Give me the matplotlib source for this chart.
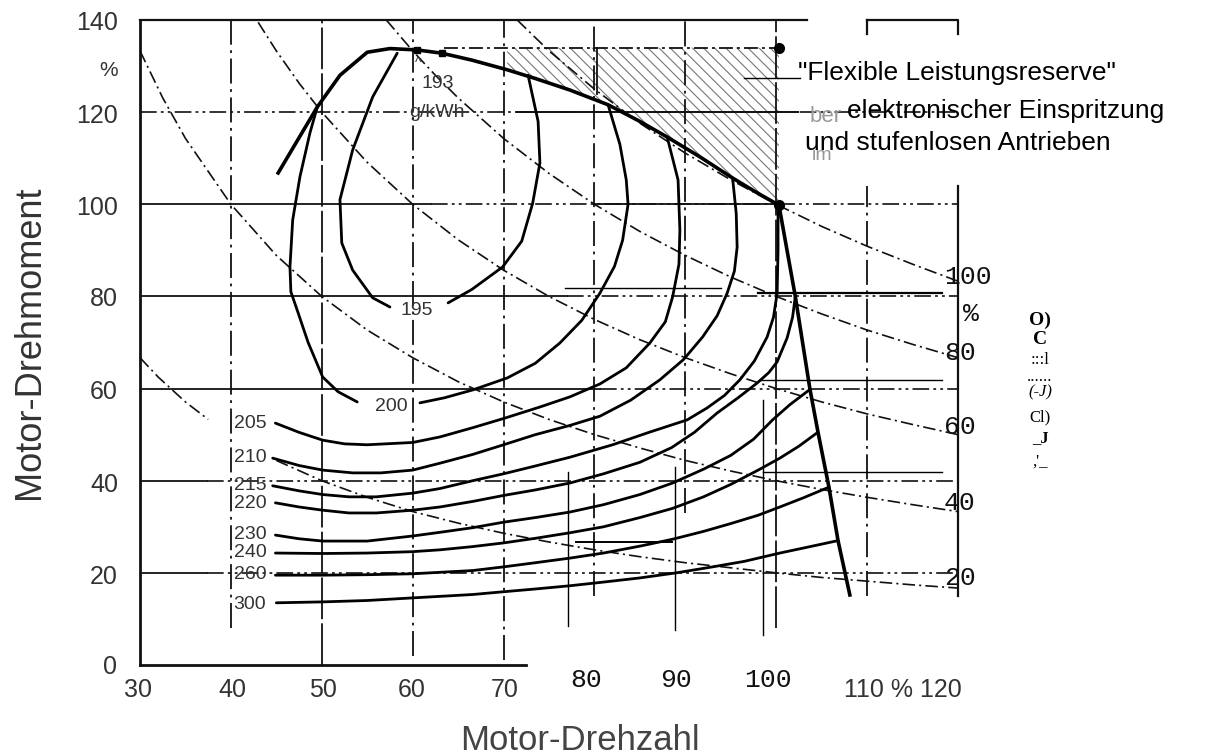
import matplotlib
matplotlib.use("Agg")
import matplotlib.pyplot as plt

plt.rcParams['font.family'] = ['Liberation Sans', 'DejaVu Sans']
plt.rcParams['lines.scale_dashes'] = False
plt.rcParams['hatch.linewidth'] = 0.8

W, H = 1226, 756

# full load curve (speed %, torque %) incl. governor branch
full_n = [45.2, 49.5, 52.0, 55.0, 57.5, 60.5, 63.2, 66.5, 70.4, 73.5, 77.3, 81.5, 84.8, 88.0,
          91.6, 95.2, 97.8, 100.3, 102.1, 103.7, 104.6, 105.8, 106.8, 108.1]
full_m = [106.8, 121.1, 128.0, 133.0, 133.8, 133.5, 132.8, 131.3, 129.2, 127.3, 124.8, 121.6, 118.2, 114.6,
          110.3, 105.7, 102.6, 99.8, 80.0, 60.0, 50.5, 38.6, 27.0, 15.2]

# specific fuel consumption lines (g/kWh)
c195_l_n = [58.3, 55.6, 53.4, 52.0, 52.2, 53.4, 55.6, 57.5]
c195_l_m = [132.8, 123.3, 111.8, 101.0, 91.6, 85.7, 79.7, 77.7]
c195_r_n = [63.9, 66.5, 69.9, 72.0, 73.2, 74.0, 73.8, 72.7]
c195_r_m = [78.6, 81.5, 86.4, 92.0, 100.2, 109.0, 118.0, 128.0]

c200_l_n = [49.5, 48.7, 47.6, 46.8, 46.5, 46.6, 47.3, 48.5, 50.1, 51.8, 53.9]
c200_l_m = [121.1, 115.5, 106.0, 96.6, 86.4, 81.0, 77.0, 70.0, 62.5, 59.3, 57.1]
c200_r_n = [60.8, 63.5, 66.6, 70.4, 73.5, 76.2, 78.6, 80.6, 82.2, 83.1, 83.7, 83.5, 82.8, 81.5]
c200_r_m = [56.9, 58.0, 59.7, 62.3, 65.5, 69.9, 74.8, 80.7, 86.5, 92.2, 100.0, 105.3, 113.0, 121.6]

c205_n = [44.9, 47.5, 50.1, 52.5, 55.0, 60.0, 63.0, 66.6, 70.0, 74.0, 77.3, 80.6, 83.5, 86.1,
          87.8, 88.6, 89.3, 89.4, 89.2, 88.0]
c205_m = [52.5, 50.5, 48.8, 48.0, 47.8, 48.3, 49.5, 51.5, 53.5, 56.0, 58.2, 61.0, 64.5, 69.9,
          74.5, 79.9, 87.0, 94.4, 105.3, 114.6]

c210_n = [44.6, 47.5, 50.1, 53.4, 56.5, 60.0, 63.0, 66.6, 70.0, 73.5, 77.3, 80.6, 84.0, 87.2,
          89.8, 91.9, 93.5, 94.6, 95.4, 95.7, 95.6, 95.2]
c210_m = [44.9, 43.3, 42.3, 41.7, 41.7, 42.3, 43.8, 45.7, 47.8, 50.0, 52.0, 54.0, 57.5, 61.9,
          66.3, 71.2, 75.8, 80.7, 85.5, 90.7, 98.0, 105.7]

c215_n = [44.6, 47.5, 50.1, 53.0, 56.0, 60.0, 63.0, 66.6, 70.0, 73.5, 77.3, 82.0, 86.0, 90.2,
          92.4, 94.3, 96.0, 97.6, 99.0, 99.7, 100.1, 100.2, 100.2]
c215_m = [38.9, 37.8, 37.0, 36.5, 36.5, 37.3, 38.3, 40.0, 41.5, 43.2, 45.1, 47.8, 50.5, 53.2,
          55.8, 58.5, 61.9, 66.0, 71.2, 75.5, 80.7, 90.0, 99.8]

c220_n = [44.9, 47.5, 50.1, 53.0, 56.0, 60.0, 63.0, 66.6, 70.0, 73.5, 77.3, 81.0, 85.0, 88.5,
          91.0, 93.5, 95.8, 97.9, 99.2, 100.1, 101.2, 101.8, 102.1]
c220_m = [35.2, 34.3, 33.6, 33.0, 33.0, 33.6, 34.3, 35.5, 36.8, 38.0, 39.5, 41.5, 44.0, 47.2,
          50.5, 54.7, 58.0, 61.2, 63.5, 65.8, 71.0, 75.5, 80.0]

c230_n = [44.9, 47.5, 50.1, 55.0, 60.0, 63.0, 66.6, 70.0, 73.5, 77.3, 81.0, 85.0, 88.6, 92.0,
          95.0, 97.5, 99.6, 101.5, 103.7]
c230_m = [28.2, 27.4, 26.9, 26.9, 28.0, 28.8, 29.8, 31.0, 32.0, 33.2, 34.8, 37.0, 39.5, 42.5,
          45.5, 49.0, 53.2, 56.5, 59.8]

c240_n = [44.9, 50.1, 55.0, 60.0, 63.0, 66.6, 70.0, 73.5, 77.3, 81.0, 85.0, 88.6, 92.0, 95.0,
          98.2, 100.4, 102.5, 104.5]
c240_m = [24.3, 24.2, 24.3, 24.6, 25.0, 25.7, 26.5, 27.5, 28.7, 30.0, 32.0, 34.0, 36.5, 39.2,
          42.5, 44.9, 47.5, 50.4]

c260_n = [44.9, 50.1, 55.0, 60.0, 66.6, 70.0, 73.5, 77.3, 81.0, 85.0, 88.6, 92.0, 95.0, 98.0,
          100.4, 103.0, 105.8]
c260_m = [19.5, 19.5, 19.6, 19.8, 20.5, 21.3, 22.2, 23.2, 24.3, 25.8, 27.3, 29.0, 30.7, 32.5,
          34.3, 36.3, 38.6]

c300_n = [45.0, 50.1, 55.0, 59.4, 63.0, 66.6, 70.0, 73.5, 77.3, 81.0, 85.0, 89.0, 93.0, 96.5,
          100.4, 103.5, 106.8]
c300_m = [13.5, 13.7, 14.0, 14.5, 14.9, 15.3, 15.9, 16.5, 17.2, 18.0, 18.9, 20.0, 21.3, 22.5,
          24.3, 25.6, 27.0]

sfc_lines = [(c195_l_n, c195_l_m), (c195_r_n, c195_r_m), (c200_l_n, c200_l_m), (c200_r_n, c200_r_m),
             (c205_n, c205_m), (c210_n, c210_m), (c215_n, c215_m), (c220_n, c220_m),
             (c230_n, c230_m), (c240_n, c240_m), (c260_n, c260_m), (c300_n, c300_m)]

# labels of the fuel lines on the left side
sfc_labels = ['205', '210', '215', '220', '230', '240', '260', '300']
sfc_label_m = [52.5, 45.1, 39.0, 35.0, 28.4, 24.5, 19.7, 13.2]

# constant power lines (% of rated power)
p100_n = [71.5, 75, 80, 85, 90, 95, 100, 105, 110, 115, 120]
p100_m = [140.0, 133.3, 125.0, 117.6, 111.1, 105.3, 100.0, 95.2, 90.9, 87.0, 83.3]
p80_n = [57.1, 60, 62.5, 65, 70, 75, 80, 85, 90, 95, 100, 105, 110, 115, 120]
p80_m = [140.0, 133.3, 128.0, 123.1, 114.3, 106.7, 100.0, 94.1, 88.9, 84.2, 80.0, 76.2, 72.7, 69.6, 66.7]
p60_n = [43, 45, 47.5, 50, 55, 60, 65, 70, 75, 80, 85, 90, 95, 100, 105, 110, 115, 120]
p60_m = [139.5, 133.3, 126.3, 120.0, 109.1, 100.0, 92.3, 85.7, 80.0, 75.0, 70.6, 66.7, 63.2, 60.0,
         57.1, 54.5, 52.2, 50.0]
p40_n = [30, 32.5, 35, 40, 45, 50, 55, 60, 65, 70, 75, 80, 85, 90, 95, 100, 105, 110, 115, 120]
p40_m = [133.3, 123.1, 114.3, 100.0, 88.9, 80.0, 72.7, 66.7, 61.5, 57.1, 53.3, 50.0, 47.1, 44.4,
         42.1, 40.0, 38.1, 36.4, 34.8, 33.3]
p20a_n = [30, 32, 35, 37.5]
p20a_m = [66.7, 62.5, 57.1, 53.3]
p20b_n = [45, 50, 55, 60, 65, 70, 75, 80, 85, 90, 95, 100, 105, 110, 115, 120]
p20b_m = [44.4, 40.0, 36.4, 33.3, 30.8, 28.6, 26.7, 25.0, 23.5, 22.2, 21.1, 20.0, 19.0, 18.2, 17.4, 16.7]
power_lines = [(p100_n, p100_m), (p80_n, p80_m), (p60_n, p60_m), (p40_n, p40_m),
               (p20a_n, p20a_m), (p20b_n, p20b_m)]
power_labels = ['100', '%', '80', '60', '40', '20']
power_label_y = [277, 314, 353, 427, 503, 578]

# grid
h_grid = [20, 40, 60, 80, 100, 120]
h_solid_end = [37.4, 37.4, 80.6, 77.0, 62.0, 30.0]
v_grid = [40, 50, 60, 70, 80, 90, 100, 110]
v_top = [140, 140, 140, 140, 140, 140, 140, 104]
v_bottom = [8, 0, 2, 1, 15, 33, 8, 15]

x_ticks_a = ['30', '40', '50', '60', '70']
x_ticks_b = ['80', '90', '100']
y_ticks = ['140', '120', '100', '80', '60', '40', '20', '0']

# reserve corner / rated point
reserve_n = [100.3, 100.3]
reserve_m = [134.0, 99.8]
best_n = [60.5, 63.2]
best_m = [133.5, 132.8]

fig = plt.figure(figsize=(W / 100, H / 100), dpi=100)
ax = fig.add_axes([140 / W, 1 - 665 / H, 818 / W, 645 / H])
ax.set_xlim(30, 120)
ax.set_ylim(0, 140)
ax.axis('off')

def fxy(x, y):
    return x / W, 1 - y / H

ink = '#111111'
dd = (0, (10, 3, 2, 3))
ddd = (0, (12, 3, 2, 3, 2, 3))

# frame
ax.plot([30, 30], [0, 140], color=ink, lw=2.0, clip_on=False)
ax.plot([30, 72.5], [0, 0], color=ink, lw=2.0, clip_on=False)
ax.plot([30, 103.4], [140, 140], color=ink, lw=1.6, clip_on=False)
ax.plot([120, 120], [15, 104], color=ink, lw=1.6, clip_on=False)
ax.plot([110, 120, 120], [140, 140, 137], color=ink, lw=1.6, clip_on=False)
ax.plot([110, 110], [140, 137], color=ink, lw=1.6, clip_on=False)

# horizontal grid: solid start then dash-dot
for y, xs in zip(h_grid, h_solid_end):
    ax.plot([30, xs], [y, y], color=ink, lw=1.3)
    ax.plot([xs, 120], [y, y], color=ink, lw=1.2, linestyle=ddd)
ax.plot([71.5, 102.4], [120, 120], color=ink, lw=1.4)
ax.plot([80, 100], [100, 100], color=ink, lw=1.3)

# vertical grid
for x, t, b in zip(v_grid, v_top, v_bottom):
    ls = (0, (18, 4, 2, 4)) if x not in (50, 100) else (0, (30, 3))
    ax.plot([x, x], [b, t], color=ink, lw=1.3, linestyle=ls)

# hatched flexible power reserve
hatch_n = [n for n in full_n[8:18]] + [100.3, 70.4]
hatch_m = [m for m in full_m[8:18]] + [134.0, 134.0]
ax.fill(hatch_n, hatch_m, facecolor='none', edgecolor='#777777', hatch='\\\\\\', linewidth=0)
ax.plot([63.5, 100.3], [134, 134], color=ink, lw=1.3, linestyle=dd)
ax.plot([80.3, 80.3], [124, 134], color=ink, lw=1.3)

# power hyperbolas
for n, m in power_lines:
    ax.plot(n, m, color=ink, lw=1.2, linestyle=(0, (9, 3, 1.5, 3)), clip_on=False)

# fuel consumption lines
for n, m in sfc_lines:
    ax.plot(n, m, color='black', lw=2.0, solid_capstyle='round')
ax.plot(full_n, full_m, color='black', lw=2.6, solid_joinstyle='round')

ax.plot(reserve_n, reserve_m, 'o', color='black', ms=7)
ax.plot(best_n, best_m, 's', color='black', ms=5)

# thin overlay lines of the re-typed labels
ax.plot([76.8, 93.9], [81.8, 81.8], color='black', lw=1.0)
ax.plot([98.0, 118.2], [80.7, 80.7], color='black', lw=1.6)
ax.plot([98.2, 118.2], [61.9, 61.9], color='black', lw=1.0)
ax.plot([98.5, 118.2], [41.9, 41.9], color='black', lw=1.0)
ax.plot([78.0, 88.5], [26.7, 26.7], color='black', lw=1.4)
ax.plot([77.1, 77.1], [8.5, 41.9], color='black', lw=1.0)
ax.plot([88.9, 88.9], [7.6, 43.0], color='black', lw=1.0)
ax.plot([98.6, 98.6], [6.5, 57.5], color='black', lw=1.0)
ax.plot([96.5, 102.6], [127.4, 127.4], color='black', lw=1.0, clip_on=False)

# curve labels
lab_kw = dict(fontsize=14, color='#333333', va='center')
for s, m in zip(sfc_labels, sfc_label_m):
    ax.text(43.9, m, s, ha='right', **lab_kw)
ax.text(60.5, 77, '195', ha='center', **lab_kw)
ax.text(57.7, 56.2, '200', ha='center', **lab_kw)
ax.text(62.8, 126.3, '193', ha='center', **lab_kw)
ax.text(62.7, 120.0, 'g/kWh', ha='center', **lab_kw)
ax.text(60.6, 130.6, '^', ha='center', fontsize=10, color='#333333', va='center')

# axis tick labels
tick_kw = dict(fontsize=18, color='#333333')
for s, y in zip(y_ticks, [23, 116, 208, 299, 392, 485, 577, 667]):
    fig.text(*fxy(118 if s != '0' else 117, y), s, ha='right', va='center', **tick_kw)
fig.text(*fxy(118, 70), '%', ha='right', va='center', fontsize=15, color='#333333')
for s, x in zip(x_ticks_a, [138, 232, 323, 412, 505]):
    fig.text(*fxy(x, 690), s, ha='center', va='center', **tick_kw)
mono = dict(family='Liberation Mono', fontsize=19, color='#111111')
for s, x in zip(x_ticks_b, [586, 676, 768]):
    fig.text(*fxy(x, 680), s, ha='center', va='center', **mono)
fig.text(*fxy(844, 690), '110 % 120', ha='left', va='center', **tick_kw)

for s, y in zip(power_labels, power_label_y):
    fig.text(*fxy(944 if s != '%' else 963, y), s, ha='left', va='center', **mono)

# vertical side text (scan residue)
side = ['O)', 'C', ':::l', '......', '(-J)', 'Cl)', '_J', ",'_"]
side_y = [320, 340, 360, 377, 392, 417, 438, 462]
for s, y in zip(side, side_y):
    fig.text(*fxy(1040, y), s, ha='center', va='center', family='Liberation Serif',
             fontsize=14 if s in ('O)', 'C') else 12, color='black',
             weight='bold' if s in ('O)', 'C', '_J') else 'normal',
             style='italic' if s == '(-J)' else 'normal')

fig.text(*fxy(30, 342), 'Motor-Drehmoment', rotation=90, ha='center', va='center',
         fontsize=26, color='#333333')
fig.text(*fxy(580, 740), 'Motor-Drehzahl', ha='center', va='center', fontsize=25, color='#444444')

fig.text(*fxy(810, 116), 'ber', ha='left', va='center', fontsize=16, color='#999999')
fig.text(*fxy(812, 156), 'im', ha='left', va='center', fontsize=14, color='#999999')
ann = dict(fontsize=19, color='black', ha='left', va='center')
fig.text(*fxy(798, 73), '"Flexible Leistungsreserve"', **ann)
fig.text(*fxy(847, 111), 'elektronischer Einspritzung', **ann)
fig.text(*fxy(805, 143), 'und stufenlosen Antrieben', **ann)

fig.savefig('out.png', dpi=100)
